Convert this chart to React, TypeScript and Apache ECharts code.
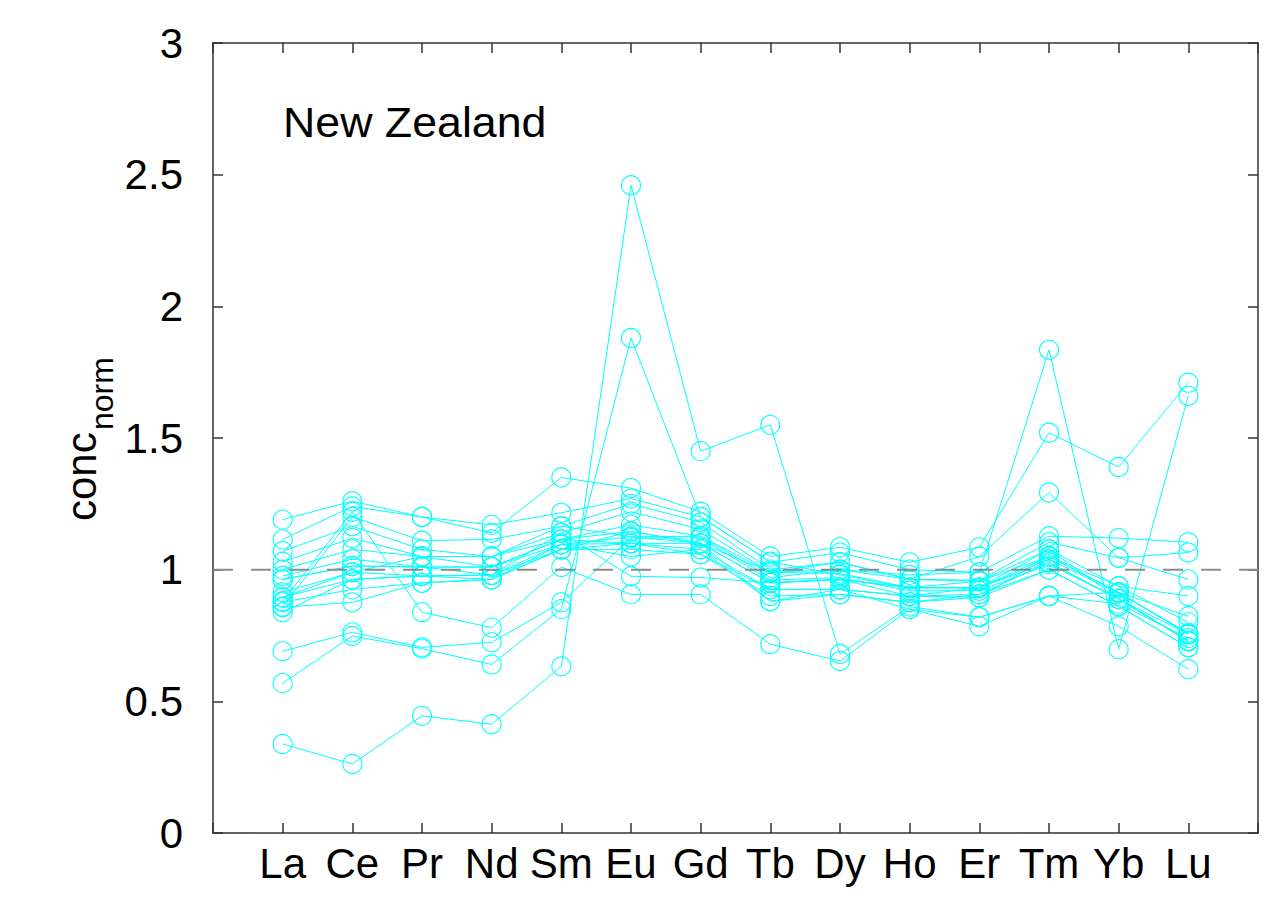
import React, { useEffect, useRef } from "react";
import * as echarts from "echarts";

const elements = ["La", "Ce", "Pr", "Nd", "Sm", "Eu", "Gd", "Tb", "Dy", "Ho", "Er", "Tm", "Yb", "Lu"];
const yTicks = [0, 0.5, 1, 1.5, 2, 2.5, 3];
const referenceLevel = 1;
const chartTitle = "New Zealand";

const s1 = [0.338, 0.262, 0.445, 0.413, 0.633, 2.46, 1.45, 1.55, 0.68, 0.86, 0.82, 0.9, 0.87, 0.74];
const s2 = [0.569, 0.748, 0.7, 0.64, 0.85, 1.88, 1.2, 1.03, 0.98, 0.93, 0.93, 1.04, 0.91, 0.76];
const s3 = [0.69, 0.762, 0.705, 0.724, 0.876, 1.12, 1.12, 0.96, 0.97, 0.92, 0.92, 1.02, 0.89, 0.73];
const s4 = [0.88, 1.22, 0.838, 0.78, 1.01, 0.906, 0.906, 0.717, 0.653, 0.85, 0.785, 0.9, 0.785, 0.622];
const s5 = [1.19, 1.26, 1.2, 1.14, 1.35, 1.31, 1.22, 1.05, 1.085, 1.028, 1.085, 1.52, 1.39, 1.71];
const s6 = [1.115, 1.24, 1.2, 1.17, 1.216, 1.27, 1.2, 1.028, 1.065, 1.0, 0.99, 1.835, 0.698, 1.66];
const s7 = [0.86, 1.2, 1.11, 1.115, 1.165, 1.25, 1.18, 1.0, 1.028, 0.963, 1.05, 1.293, 1.045, 0.963];
const s8 = [1.07, 1.165, 1.077, 1.05, 1.14, 1.22, 1.153, 0.99, 1.0, 0.98, 0.99, 1.127, 1.12, 1.104];
const s9 = [1.03, 1.12, 1.05, 1.05, 1.115, 1.17, 1.127, 0.97, 1.0, 0.963, 0.96, 1.104, 1.045, 1.065];
const s10 = [1.0, 1.077, 1.05, 1.01, 1.115, 1.145, 1.1, 0.95, 0.963, 0.932, 0.956, 1.077, 0.937, 0.9];
const s11 = [0.976, 1.04, 1.01, 1.01, 1.096, 1.125, 1.1, 0.95, 0.963, 0.932, 0.932, 1.05, 0.914, 0.823];
const s12 = [0.963, 1.014, 1.01, 0.98, 1.096, 1.1, 1.077, 0.925, 0.925, 0.9, 0.932, 1.028, 0.888, 0.755];
const s13 = [0.914, 0.99, 0.976, 0.98, 1.077, 1.1, 1.058, 0.925, 0.925, 0.9, 0.906, 1.028, 0.888, 0.728];
const s14 = [0.895, 0.963, 0.976, 0.963, 1.077, 1.077, 1.058, 0.9, 0.906, 0.876, 0.906, 1.0, 0.861, 0.705];
const s15 = [0.876, 0.925, 0.95, 0.963, 1.096, 1.05, 1.077, 0.88, 0.906, 0.876, 0.895, 1.0, 0.861, 0.705];
const s16 = [0.857, 0.876, 0.95, 0.963, 1.077, 1.145, 1.1, 0.88, 0.925, 0.85, 0.819, 0.9, 0.914, 0.755];
const s17 = [0.838, 0.963, 0.976, 0.98, 1.14, 0.975, 0.97, 0.95, 0.963, 0.9, 0.895, 1.05, 0.937, 0.8];
const s18 = [0.895, 0.99, 1.05, 1.05, 1.165, 1.125, 1.127, 0.99, 0.985, 0.932, 0.932, 1.077, 0.888, 0.728];
const s19 = [0.963, 1.014, 1.01, 1.01, 1.115, 1.1, 1.1, 0.99, 1.028, 0.963, 0.956, 1.05, 0.914, 0.755];

const samples = [s1, s2, s3, s4, s5, s6, s7, s8, s9, s10, s11, s12, s13, s14, s15, s16, s17, s18, s19];

const CYAN = "#00ffff";
const FONT = "'Liberation Sans', Arial, sans-serif";

export default function App() {
  const ref = useRef<HTMLDivElement>(null);

  useEffect(() => {
    if (!ref.current) return;
    const chart = echarts.init(ref.current, null, { renderer: "svg" });

    const sampleSeries = samples.map((vals, k) => ({
      type: "line",
      name: "sample" + (k + 1),
      data: vals.map((v, i) => [i + 1, v]),
      symbol: "circle",
      symbolSize: 19,
      itemStyle: { color: "rgba(0,0,0,0)", borderColor: CYAN, borderWidth: 1.1 },
      lineStyle: { color: CYAN, width: 1 },
      emphasis: { disabled: true },
      z: 2,
    }));

    const axisLine = { show: true, onZero: false, lineStyle: { color: "#333", width: 1.5 } };
    const tickStyle = { show: true, inside: true, length: 10, lineStyle: { color: "#333", width: 1.5 } };

    chart.setOption({
      animation: false,
      backgroundColor: "#fff",
      grid: { left: 213, right: 21, top: 43, bottom: 68, containLabel: false },
      xAxis: [
        {
          type: "value",
          min: 0,
          max: elements.length + 1,
          interval: 1,
          position: "bottom",
          axisLine,
          axisTick: tickStyle,
          splitLine: { show: false },
          axisLabel: {
            fontSize: 42,
            fontFamily: FONT,
            color: "#000",
            margin: 9,
            formatter: (v: number) => elements[v - 1] || "",
          },
        },
        {
          type: "value",
          min: 0,
          max: elements.length + 1,
          interval: 1,
          position: "top",
          axisLine,
          axisTick: tickStyle,
          splitLine: { show: false },
          axisLabel: { show: false },
        },
      ],
      yAxis: [
        {
          type: "value",
          min: yTicks[0],
          max: yTicks[yTicks.length - 1],
          interval: 0.5,
          position: "left",
          axisLine,
          axisTick: tickStyle,
          splitLine: { show: false },
          axisLabel: { fontSize: 42, fontFamily: FONT, color: "#000", margin: 30 },
        },
        {
          type: "value",
          min: yTicks[0],
          max: yTicks[yTicks.length - 1],
          interval: 0.5,
          position: "right",
          axisLine,
          axisTick: tickStyle,
          splitLine: { show: false },
          axisLabel: { show: false },
        },
      ],
      series: [
        ...sampleSeries,
        {
          type: "line",
          name: "reference",
          data: [
            [0, referenceLevel],
            [elements.length + 1, referenceLevel],
          ],
          symbol: "none",
          lineStyle: { color: "#8c8c8c", width: 2, type: [20, 18] },
          emphasis: { disabled: true },
          z: 3,
        },
      ],
      graphic: [
        {
          type: "text",
          x: 283,
          y: 122,
          style: {
            text: chartTitle,
            font: "43px " + FONT,
            fill: "#000",
            verticalAlign: "middle",
            align: "left",
          },
          scaleX: 1.04,
        },
        {
          type: "text",
          x: 81,
          y: 521,
          rotation: Math.PI / 2,
          style: {
            text: "conc",
            font: "42px " + FONT,
            fill: "#000",
            verticalAlign: "middle",
            align: "left",
          },
        },
        {
          type: "text",
          x: 102,
          y: 430,
          rotation: Math.PI / 2,
          style: {
            text: "norm",
            font: "32px " + FONT,
            fill: "#000",
            verticalAlign: "middle",
            align: "left",
          },
        },
      ],
    });

    return () => chart.dispose();
  }, []);

  return (
    <div
      ref={ref}
      style={{ position: "fixed", left: 0, top: 0, width: 1279, height: 901, background: "#fff" }}
    />
  );
}
